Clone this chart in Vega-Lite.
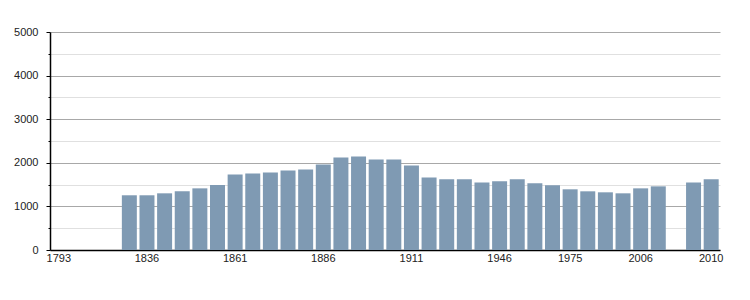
{
  "$schema": "https://vega.github.io/schema/vega-lite/v6.json",
  "width": 670,
  "height": 218,
  "autosize": {"type": "none"},
  "padding": {"left": 50, "top": 32, "right": 30, "bottom": 50},
  "background": "white",
  "config": {
    "view": {"stroke": null},
    "font": "Liberation Sans",
    "axis": {"labelFont": "Liberation Sans", "labelFontSize": 11, "labelColor": "#222222"}
  },
  "data": {
    "values": [
      {"year": "1831", "pop": 1255},
      {"year": "1836", "pop": 1255},
      {"year": "1841", "pop": 1300},
      {"year": "1846", "pop": 1346},
      {"year": "1851", "pop": 1414},
      {"year": "1856", "pop": 1490},
      {"year": "1861", "pop": 1734},
      {"year": "1866", "pop": 1757},
      {"year": "1872", "pop": 1779},
      {"year": "1876", "pop": 1825},
      {"year": "1881", "pop": 1848},
      {"year": "1886", "pop": 1962},
      {"year": "1891", "pop": 2122},
      {"year": "1896", "pop": 2144},
      {"year": "1901", "pop": 2076},
      {"year": "1906", "pop": 2076},
      {"year": "1911", "pop": 1939},
      {"year": "1921", "pop": 1665},
      {"year": "1926", "pop": 1620},
      {"year": "1931", "pop": 1620},
      {"year": "1936", "pop": 1551},
      {"year": "1946", "pop": 1574},
      {"year": "1954", "pop": 1620},
      {"year": "1962", "pop": 1529},
      {"year": "1968", "pop": 1483},
      {"year": "1975", "pop": 1392},
      {"year": "1982", "pop": 1346},
      {"year": "1990", "pop": 1323},
      {"year": "1999", "pop": 1300},
      {"year": "2006", "pop": 1414},
      {"year": "2007", "pop": 1460},
      {"year": "2009", "pop": 1551},
      {"year": "2010", "pop": 1620}
    ]
  },
  "mark": {"type": "bar", "color": "#7f9ab3"},
  "encoding": {
    "x": {
      "field": "year",
      "type": "ordinal",
      "sort": null,
      "scale": {
        "domain": ["1793","1800","1806","1821","1831","1836","1841","1846","1851","1856","1861","1866","1872","1876","1881","1886","1891","1896","1901","1906","1911","1921","1926","1931","1936","1946","1954","1962","1968","1975","1982","1990","1999","2006","2007","2008","2009","2010"],
        "paddingInner": 0.15,
        "paddingOuter": 0.075
      },
      "axis": {
        "title": null,
        "values": ["1793","1836","1861","1886","1911","1946","1975","2006","2010"],
        "labelAngle": 0,
        "ticks": false,
        "labelPadding": 2,
        "domainColor": "#000000",
        "domainWidth": 1.5,
        "grid": false
      }
    },
    "y": {
      "field": "pop",
      "type": "quantitative",
      "scale": {"domain": [0, 5000], "nice": false},
      "axis": {
        "title": null,
        "values": [0,500,1000,1500,2000,2500,3000,3500,4000,4500,5000],
        "labelExpr": "datum.value % 1000 === 0 ? datum.label : ''",
        "format": "d",
        "tickSize": {"condition": {"test": "datum.value % 1000 === 0", "value": 4}, "value": 2},
        "tickColor": "#000000",
        "labelPadding": 8,
        "domainColor": "#000000",
        "domainWidth": 1.5,
        "grid": true,
        "gridColor": {"condition": {"test": "datum.value % 1000 === 0", "value": "#a8a8a8"}, "value": "#e0e0e0"},
        "gridWidth": 1
      }
    }
  }
}
